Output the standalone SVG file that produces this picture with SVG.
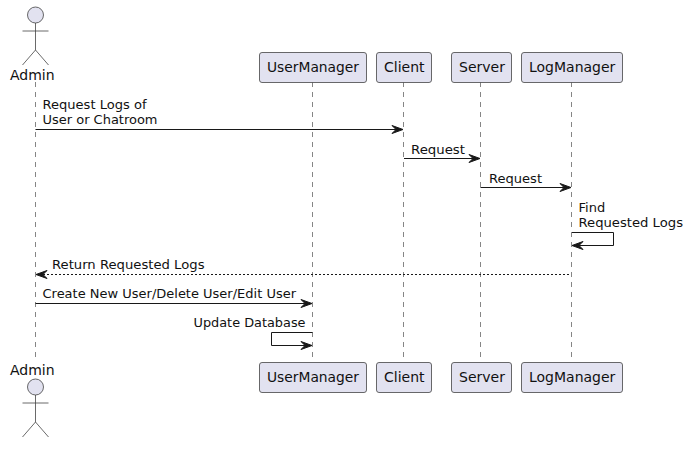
<svg xmlns="http://www.w3.org/2000/svg" width="692" height="451" viewBox="0 0 692 451">
<style>
.life{stroke:#333;stroke-width:.6;stroke-dasharray:5,5;fill:none}
.box{fill:#E2E2F0;stroke:#444;stroke-width:.8}
.act{fill:none;stroke:#444;stroke-width:.8}
.head{fill:#E2E2F0;stroke:#444;stroke-width:.8}
.n{font-family:"DejaVu Sans",sans-serif;font-size:14px;fill:#111}
.m{font-family:"DejaVu Sans",sans-serif;font-size:13px;fill:#111}
.c{fill:none;stroke:#181818;stroke-width:1}
.d{stroke-dasharray:2,2}
.a{fill:#181818;stroke:#181818;stroke-width:1}
</style>
<rect width="692" height="451" fill="#fff"/>
<g id="lifelines">
<line class="life" x1="35.5" y1="82" x2="35.5" y2="362"/>
<line class="life" x1="312.5" y1="82" x2="312.5" y2="362"/>
<line class="life" x1="403.5" y1="82" x2="403.5" y2="362"/>
<line class="life" x1="480.5" y1="82" x2="480.5" y2="362"/>
<line class="life" x1="571.5" y1="82" x2="571.5" y2="362"/>
</g>
<g id="admin-top">
<circle class="head" cx="35.5" cy="15" r="8"/>
<path class="act" d="M35.5 23V50M22.5 31H48.5M35.5 50L22.5 65M35.5 50L48.5 65"/>
<text class="n" x="10" y="80">Admin</text>
</g>
<g id="admin-bottom">
<text class="n" x="10" y="375">Admin</text>
<circle class="head" cx="35.5" cy="387" r="8"/>
<path class="act" d="M35.5 395V422M22.5 403H48.5M35.5 422L22.5 437M35.5 422L48.5 437"/>
</g>
<g id="usermanager-top"><rect class="box" x="259.5" y="52.5" width="107" height="30" rx="2.5"/><text class="n" x="267" y="72" textLength="92" lengthAdjust="spacingAndGlyphs">UserManager</text></g>
<g id="client-top"><rect class="box" x="376.5" y="52.5" width="55" height="30" rx="2.5"/><text class="n" x="384" y="72">Client</text></g>
<g id="server-top"><rect class="box" x="451.5" y="52.5" width="60" height="30" rx="2.5"/><text class="n" x="459" y="72">Server</text></g>
<g id="logmanager-top"><rect class="box" x="521.5" y="52.5" width="101" height="30" rx="2.5"/><text class="n" x="529" y="72">LogManager</text></g>
<g id="usermanager-bottom"><rect class="box" x="259.5" y="362.5" width="107" height="30" rx="2.5"/><text class="n" x="267" y="382" textLength="92" lengthAdjust="spacingAndGlyphs">UserManager</text></g>
<g id="client-bottom"><rect class="box" x="376.5" y="362.5" width="55" height="30" rx="2.5"/><text class="n" x="384" y="382">Client</text></g>
<g id="server-bottom"><rect class="box" x="451.5" y="362.5" width="60" height="30" rx="2.5"/><text class="n" x="459" y="382">Server</text></g>
<g id="logmanager-bottom"><rect class="box" x="521.5" y="362.5" width="101" height="30" rx="2.5"/><text class="n" x="529" y="382">LogManager</text></g>
<g id="connectors">
<line class="c" x1="35.5" y1="129.5" x2="400" y2="129.5"/>
<path class="a" d="M392 125.5L403 129.5L392 133.5L396 129.5Z"/>
<line class="c" x1="404" y1="158.5" x2="477" y2="158.5"/>
<path class="a" d="M469 154.5L480 158.5L469 162.5L473 158.5Z"/>
<line class="c" x1="480.5" y1="187.5" x2="568" y2="187.5"/>
<path class="a" d="M560 183.5L571 187.5L560 191.5L564 187.5Z"/>
<path class="c" d="M572 232.5H613.5V245.5H575"/>
<path class="a" d="M583 241.5L572 245.5L583 249.5L579 245.5Z"/>
<line class="c d" x1="39" y1="274.5" x2="571" y2="274.5"/>
<path class="a" d="M47 270.5L36 274.5L47 278.5L43 274.5Z"/>
<line class="c" x1="35.5" y1="303.5" x2="309" y2="303.5"/>
<path class="a" d="M301 299.5L312 303.5L301 307.5L305 303.5Z"/>
<path class="c" d="M312.5 332.5H271.5V345.5H309"/>
<path class="a" d="M301 341.5L312 345.5L301 349.5L305 345.5Z"/>
</g>
<g id="labels">
<text class="m" x="42.5" y="109" textLength="104" lengthAdjust="spacingAndGlyphs">Request Logs of</text>
<text class="m" x="42.5" y="124" textLength="115" lengthAdjust="spacingAndGlyphs">User or Chatroom</text>
<text class="m" x="411" y="154" textLength="54" lengthAdjust="spacingAndGlyphs">Request</text>
<text class="m" x="489" y="183" textLength="53" lengthAdjust="spacingAndGlyphs">Request</text>
<text class="m" x="578.5" y="212">Find</text>
<text class="m" x="578.5" y="227" textLength="104.5" lengthAdjust="spacingAndGlyphs">Requested Logs</text>
<text class="m" x="52" y="269" textLength="152.5" lengthAdjust="spacingAndGlyphs">Return Requested Logs</text>
<text class="m" x="42.5" y="298" textLength="253.5" lengthAdjust="spacingAndGlyphs">Create New User/Delete User/Edit User</text>
<text class="m" x="193.5" y="327" textLength="112" lengthAdjust="spacingAndGlyphs">Update Database</text>
</g>
</svg>
